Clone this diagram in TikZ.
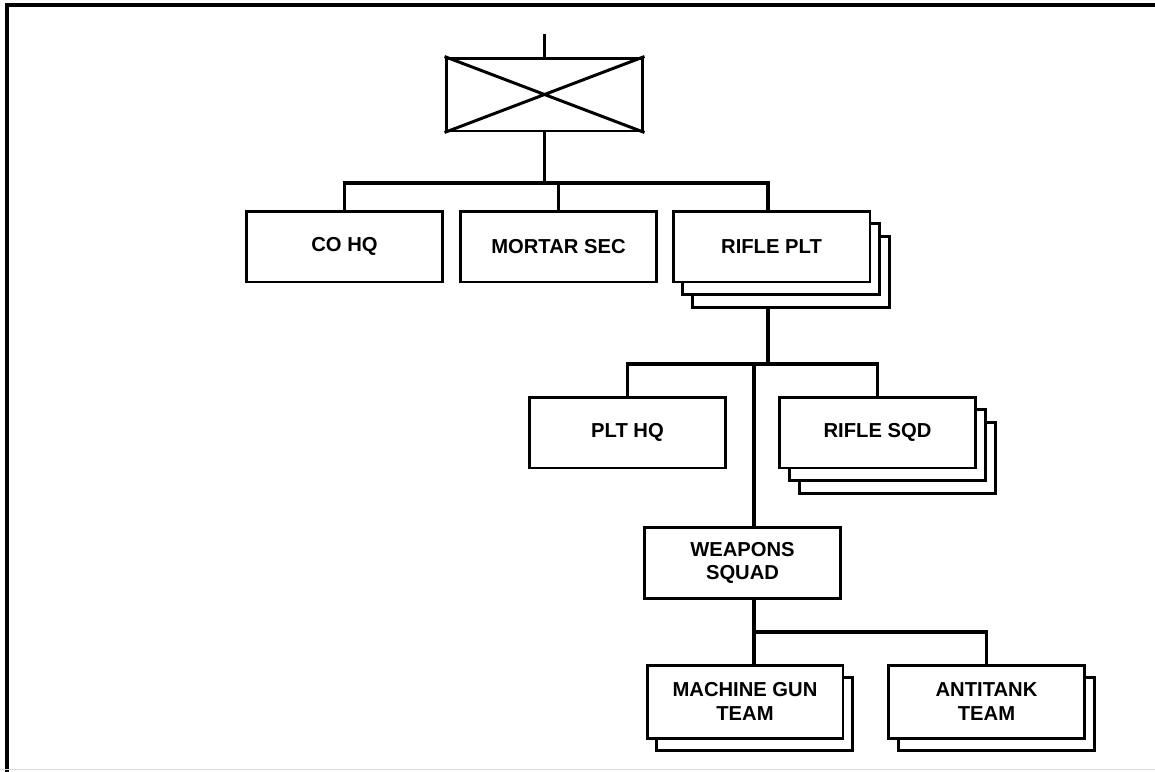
\documentclass[tikz,border=0pt]{standalone}
\usepackage{fontspec}
\setmainfont{Liberation Sans}
\usetikzlibrary{calc, shadows}

\tikzset{
  unit/.style={draw, line width=1.7pt, fill=white, inner sep=0pt, align=center,
    minimum width=3.92cm, minimum height=1.42cm,
    font=\fontsize{11.5}{13.5}\selectfont\bfseries},
  twofold/.style={unit,
    copy shadow={shadow xshift=5.6pt, shadow yshift=-7.3pt}},
  threefold/.style={unit,
    copy shadow={shadow xshift=11.2pt, shadow yshift=-14.5pt},
    copy shadow={shadow xshift=5.6pt, shadow yshift=-7.3pt}},
  link/.style={line width=2.2pt},
}

\begin{document}
\begin{tikzpicture}[x=0.02cm, y=-0.02cm]
            \useasboundingbox (0,0) rectangle (1155,771);
            \draw[line width=2.3pt] (7,790) -- (7,5) -- (1170,5);
            \draw[gray!30, line width=0.6pt] (0,769.5) -- (1155,769.5);
            % command symbol
            \node[draw, line width=1.7pt, minimum width=3.94cm, minimum height=1.46cm] (cmd) at (544.5,94.5) {};
            \draw[line width=1.7pt] (cmd.north west) -- (cmd.south east) (cmd.south west) -- (cmd.north east);
            \coordinate (cmdtop) at (544.5,34);
            \draw[link] (cmd.north) -- (cmdtop);
            % company
            \node[unit] (cohq) at (344.5,246.5) {CO HQ};
            \node[unit] (mortar) at (558.5,246.5) {MORTAR SEC};
            \node[threefold, minimum width=3.94cm] (rplt) at (771.5,246.5) {RIFLE PLT};
            % platoon
            \node[unit] (plthq) at (627.5,432.5) {PLT HQ};
            \node[threefold] (rsqd) at (877.5,432.5) {RIFLE SQD};
            \node[unit] (wsq) at (742.5,563) {WEAPONS\\SQUAD};
            % teams
            \node[twofold, minimum height=1.46cm] (mgteam) at (745,701.5) {MACHINE GUN\\TEAM};
            \node[twofold, minimum height=1.46cm] (atteam) at (986.5,701.5) {ANTITANK\\TEAM};
            % connectors
            \coordinate (j1) at (544.5,183);
            \coordinate (j2) at (768,364);
            \coordinate (j3) at (754,364);
            \coordinate (j4) at (754,632);
            \draw[link] (cmd.south) -- (j1);
            \draw[link] (cohq.north) |- (j1) -| (j2 |- rplt.north);
            \draw[link] (mortar.north) -- (mortar.north |- j1);
            \draw[link] ($(j2 |- rplt.south)+(0,26)$) -- (j2);
            \draw[link] (plthq.north) |- (j2) -| (rsqd.north);
            \draw[link] (j3) -- (j3 |- wsq.north);
            \draw[link] (j3 |- wsq.south) -- (j3 |- mgteam.north);
            \draw[link] (j4) -| (atteam.north);
        \end{tikzpicture}
\end{document}
